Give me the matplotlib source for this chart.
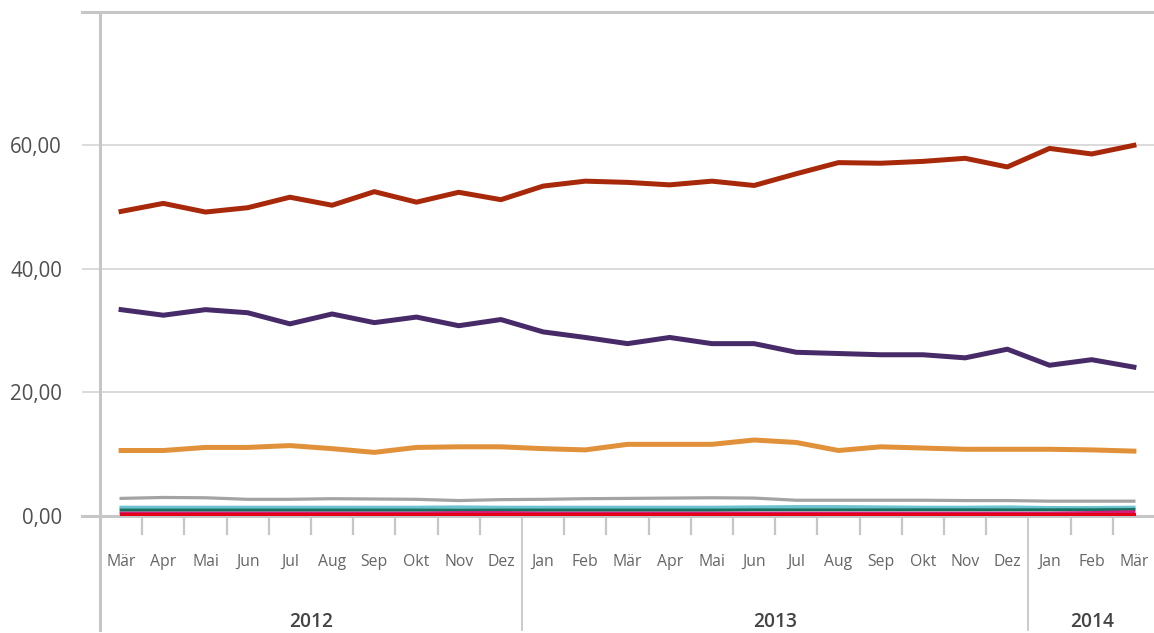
import numpy as np
import matplotlib.pyplot as plt
from matplotlib.transforms import blended_transform_factory

plt.rcParams['font.family'] = ['Open Sans', 'DejaVu Sans']

# Monate März 2012 bis März 2014
months = ['Mär', 'Apr', 'Mai', 'Jun', 'Jul', 'Aug', 'Sep', 'Okt', 'Nov', 'Dez',
          'Jan', 'Feb', 'Mär', 'Apr', 'Mai', 'Jun', 'Jul', 'Aug', 'Sep', 'Okt', 'Nov', 'Dez',
          'Jan', 'Feb', 'Mär']
years = ['2012', '2013', '2014']
year_first = [0, 10, 22]   # Index des ersten Monats je Jahr
year_last = [9, 21, 24]

s_red = [49.3, 50.6, 49.2, 49.9, 51.6, 50.3, 52.5, 50.8, 52.4, 51.2,
         53.4, 54.2, 54.0, 53.6, 54.2, 53.5, 55.4, 57.2, 57.1, 57.4, 57.9, 56.5,
         59.5, 58.6, 60.0]
s_purple = [33.4, 32.5, 33.4, 32.9, 31.1, 32.7, 31.3, 32.2, 30.8, 31.8,
            29.8, 28.9, 27.9, 28.9, 27.9, 27.9, 26.5, 26.3, 26.1, 26.1, 25.6, 27.0,
            24.4, 25.3, 24.1]
s_orange = [10.6, 10.6, 11.1, 11.1, 11.4, 10.9, 10.3, 11.1, 11.2, 11.2,
            10.9, 10.7, 11.6, 11.6, 11.6, 12.3, 11.9, 10.6, 11.2, 11.0, 10.8, 10.8,
            10.8, 10.7, 10.5]
s_gray = [2.85, 3.0, 2.95, 2.7, 2.7, 2.8, 2.75, 2.7, 2.5, 2.65,
          2.7, 2.8, 2.85, 2.9, 2.95, 2.9, 2.55, 2.55, 2.55, 2.55, 2.5, 2.5,
          2.4, 2.4, 2.4]
s_lightblue = [1.4, 1.4, 1.4, 1.4, 1.4, 1.4, 1.4, 1.4, 1.45, 1.4,
               1.4, 1.4, 1.4, 1.4, 1.4, 1.45, 1.5, 1.5, 1.45, 1.4, 1.4, 1.45,
               1.35, 1.35, 1.4]
s_green = [0.95, 0.95, 0.95, 0.95, 0.95, 0.95, 0.95, 0.95, 0.95, 0.95,
           0.95, 0.95, 0.95, 0.95, 0.95, 1.0, 1.0, 1.0, 1.0, 1.0, 1.0, 1.0,
           1.0, 1.0, 1.05]
s_magenta = [0.45, 0.45, 0.45, 0.45, 0.45, 0.45, 0.45, 0.45, 0.55, 0.55,
             0.45, 0.45, 0.45, 0.45, 0.45, 0.45, 0.45, 0.45, 0.45, 0.45, 0.45, 0.45,
             0.45, 0.55, 0.7]
s_crimson = [0.4] * 25

x = np.arange(len(months))

fig = plt.figure(figsize=(11.54, 6.33), dpi=100)
W, H = 1154, 633
ax = fig.add_axes([100 / W, (H - 516) / H, 1055 / W, 504 / H])

grid_c = '#d4d4d4'
axis_c = '#c6c6c6'

# kleine Linien unten
ax.plot(x, s_gray, color='#a3a3a3', lw=2.3, solid_capstyle='projecting', zorder=3)
ax.plot(x, s_lightblue, color='#6cc3cf', lw=2.4, solid_capstyle='projecting', zorder=3)
ax.plot(x, s_green, color='#17705f', lw=2.2, solid_capstyle='projecting', zorder=3)
ax.plot(x, s_magenta, color='#d81b7a', lw=2.2, solid_capstyle='projecting', zorder=3)
ax.plot(x, s_crimson, color='#e3001b', lw=2.2, solid_capstyle='projecting', zorder=3)
# Hauptlinien
ax.plot(x, s_orange, color='#e0913a', lw=3.6, solid_capstyle='projecting', zorder=4)
ax.plot(x, s_purple, color='#472b68', lw=3.6, solid_capstyle='projecting', zorder=4)
ax.plot(x, s_red, color='#a8280a', lw=3.6, solid_capstyle='projecting', zorder=4)

ax.set_xlim(-0.5, len(months) - 0.5)
ax.set_ylim(0, 504 / 6.178)

for s in ax.spines.values():
    s.set_visible(False)

ax.set_yticks([0, 20, 40, 60])
ax.set_yticklabels(['0,00', '20,00', '40,00', '60,00'])
ax.tick_params(axis='y', length=13, width=1.2, color=grid_c, pad=14.4,
               labelsize=14.8, labelcolor='#505050')
ax.yaxis.grid(True, color=grid_c, lw=1.2)
ax.set_axisbelow(True)
ax.set_xticks([])

ext = 18 / 1055
# Achsen: links, oben, Nulllinie
ax.plot([0, 0], [1, -114 / 504], transform=ax.transAxes, color=axis_c, lw=2.2,
        clip_on=False, zorder=2)
ax.plot([-ext, 1], [1, 1], transform=ax.transAxes, color=axis_c, lw=2.2,
        clip_on=False, zorder=2)
ax.plot([-ext, 1], [0, 0], transform=ax.transAxes, color=axis_c, lw=2.2,
        clip_on=False, zorder=2)

trans = blended_transform_factory(ax.transData, ax.transAxes)
# Monatsstriche und Jahrestrenner
for i in range(len(months) - 1):
    b = i + 0.5
    if i in year_last[:-1]:
        ax.plot([b, b], [0, -114 / 504], transform=trans, color=axis_c, lw=1.3,
                clip_on=False)
    else:
        ax.plot([b, b], [0, -18 / 504], transform=trans, color=axis_c, lw=1.6,
                clip_on=False)

for i, m in enumerate(months):
    ax.text(i, -46 / 504, m, transform=trans, ha='center', va='center',
            fontsize=11.3, color='#666666')

for yr, a, b in zip(years, year_first, year_last):
    ax.text((a + b) / 2, -106 / 504, yr, transform=trans, ha='center', va='center',
            fontsize=13.8, color='#444444', fontweight='semibold')

fig.savefig('out.png', dpi=100)
